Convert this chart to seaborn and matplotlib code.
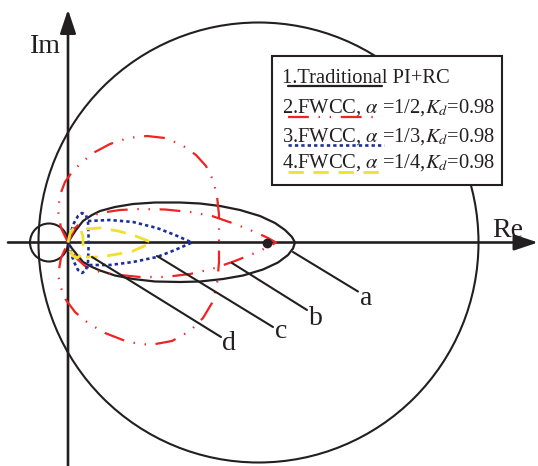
import matplotlib
matplotlib.use("Agg")
import matplotlib.pyplot as plt
from matplotlib.patches import Circle, Rectangle
import pandas as pd
import seaborn as sns

# ---------------------------------------------------------------- data
# Reference circles: unit-stability circle and the small circle left of the origin
circle_re = [1.905, -0.19]
circle_im = [0.0, 0.0]
circle_r = [2.20, 0.19]

# Curve 1: traditional PI+RC (closed teardrop from the origin)
trad_re = [0.00, 0.04, 0.08, 0.15, 0.24, 0.32, 0.47, 0.65, 0.87, 1.12, 1.32, 1.52, 1.72,
           1.92, 2.07, 2.17, 2.24, 2.27,
           2.25, 2.20, 2.10, 1.95, 1.75, 1.55, 1.32, 1.12, 0.87, 0.65, 0.47, 0.32, 0.24,
           0.15, 0.08, 0.04, 0.00]
trad_im = [0.000, 0.065, 0.125, 0.215, 0.275, 0.315, 0.355, 0.385, 0.400, 0.400, 0.390,
           0.365, 0.325, 0.265, 0.195, 0.125, 0.055, 0.000,
           -0.060, -0.125, -0.200, -0.270, -0.330, -0.365, -0.390, -0.395, -0.390, -0.365,
           -0.330, -0.280, -0.245, -0.195, -0.110, -0.060, 0.000]

# Curve 2: FWCC, alpha = 1/2 (outer lobe and inner lobe)
fw2_outer_re = [0.00, -0.07, -0.10, -0.08, -0.03, 0.04, 0.14, 0.27, 0.42, 0.60, 0.79, 0.97,
                1.14, 1.28, 1.38, 1.45, 1.49, 1.51, 1.51, 1.51, 1.49, 1.44, 1.35, 1.22,
                1.04, 0.82, 0.60, 0.37, 0.20, 0.07, -0.02, -0.07, -0.10, -0.07, 0.00]
fw2_outer_im = [0.000, 0.145, 0.325, 0.475, 0.605, 0.705, 0.805, 0.905, 0.985, 1.045,
                1.065, 1.045, 0.975, 0.875, 0.765, 0.625, 0.465, 0.275, 0.000, -0.195,
                -0.425, -0.605, -0.755, -0.885, -0.985, -1.025, -0.995, -0.905, -0.805,
                -0.695, -0.575, -0.455, -0.325, -0.155, 0.000]
fw2_inner_re = [0.00, 0.07, 0.17, 0.32, 0.52, 0.72, 0.97, 1.22, 1.44, 1.67, 1.87, 2.00,
                2.08, 2.00, 1.87, 1.67, 1.44, 1.22, 0.97, 0.72, 0.52, 0.32, 0.17, 0.07, 0.00]
fw2_inner_im = [0.000, 0.145, 0.235, 0.295, 0.325, 0.335, 0.330, 0.305, 0.265, 0.185,
                0.105, 0.045, 0.000, -0.045, -0.105, -0.185, -0.265, -0.315, -0.345,
                -0.345, -0.325, -0.295, -0.235, -0.145, 0.000]

# Curve 3: FWCC, alpha = 1/3
fw3_loop_re = [0.00, 0.03, 0.06, 0.10, 0.14, 0.18, 0.20, 0.205, 0.205, 0.20, 0.18, 0.14,
               0.10, 0.06, 0.03, 0.00]
fw3_loop_im = [0.000, 0.105, 0.195, 0.265, 0.295, 0.275, 0.205, 0.075, -0.075, -0.195,
               -0.275, -0.305, -0.275, -0.195, -0.105, 0.000]
fw3_drop_re = [0.20, 0.42, 0.65, 0.89, 1.07, 1.24, 1.07, 0.89, 0.65, 0.42, 0.20]
fw3_drop_im = [0.215, 0.225, 0.205, 0.145, 0.075, 0.000, -0.075, -0.145, -0.195, -0.225,
               -0.225]

# Curve 4: FWCC, alpha = 1/4
fw4_loop_re = [0.00, 0.02, 0.05, 0.09, 0.13, 0.15, 0.15, 0.13, 0.09, 0.05, 0.02, 0.00]
fw4_loop_im = [0.000, 0.085, 0.135, 0.155, 0.125, 0.055, -0.055, -0.125, -0.155, -0.135,
               -0.085, 0.000]
fw4_drop_re = [0.18, 0.32, 0.50, 0.65, 0.84, 0.65, 0.50, 0.32, 0.18]
fw4_drop_im = [0.135, 0.145, 0.115, 0.075, 0.000, -0.085, -0.115, -0.145, -0.145]

# Marked point on the real axis
dot_re, dot_im = 1.99, 0.0

# Leader lines and their letters
leader_names = ["a", "b", "c", "d"]
leader_start_re = [2.25, 1.64, 0.89, 0.24]
leader_start_im = [-0.095, -0.205, -0.135, -0.145]
leader_end_re = [2.90, 2.39, 2.05, 1.53]
leader_end_im = [-0.490, -0.675, -0.845, -0.945]
leader_text_re = [2.98, 2.48, 2.13, 1.61]
leader_text_im = [-0.625, -0.825, -0.955, -1.075]

legend_labels = [
    "1.Traditional PI+RC",
    "2.FWCC, $\\alpha$ =1/2,$K_d$=0.98",
    "3.FWCC, $\\alpha$ =1/3,$K_d$=0.98",
    "4.FWCC, $\\alpha$ =1/4,$K_d$=0.98",
]

# ---------------------------------------------------------------- style
sns.set_theme(style="white")
plt.rcParams["font.family"] = ["Liberation Serif", "DejaVu Serif"]
plt.rcParams["mathtext.fontset"] = "stix"
plt.rcParams["lines.scale_dashes"] = False

BLACK = "#231f20"
RED = "#f02222"
BLUE = "#1c2f99"
YELLOW = "#f0e030"

STY_TRAD = dict(color=BLACK, lw=1.6, linestyle="-")
STY_FW2 = dict(color=RED, lw=1.6, linestyle=(0, (15, 7, 1, 7, 1, 7)))
STY_FW3 = dict(color=BLUE, lw=1.9, linestyle=(0, (2.4, 2.2)))
STY_FW4 = dict(color=YELLOW, lw=2.0, linestyle=(0, (11, 7)))

fig = plt.figure(figsize=(5.38, 4.66), dpi=100)
ax = fig.add_axes([0, 0, 1, 1])
ax.set_xlim(-0.68, 4.70)
ax.set_ylim(-2.235, 2.425)
ax.set_axis_off()


def curve(re, im, style, z=3):
    df = pd.DataFrame({"Re": re, "Im": im})
    sns.lineplot(data=df, x="Re", y="Im", sort=False, estimator=None, ax=ax,
                 zorder=z, **style)


# circles
for cx, cy, r in zip(circle_re, circle_im, circle_r):
    ax.add_patch(Circle((cx, cy), r, fill=False, ec=BLACK, lw=1.5, zorder=1))

# axes with arrowheads
arrow = dict(arrowstyle="-|>,head_length=0.72,head_width=0.24", mutation_scale=20,
             color=BLACK, lw=1.9, shrinkA=0, shrinkB=0)
ax.annotate("", xy=(4.70, 0.0), xytext=(-0.60, 0.0), arrowprops=arrow, zorder=2)
ax.annotate("", xy=(0.0, 2.33), xytext=(0.0, -2.25), arrowprops=arrow, zorder=2)
ax.text(-0.23, 1.895, "Im", fontsize=20, ha="center", va="baseline", color=BLACK)
ax.text(4.40, 0.055, "Re", fontsize=20, ha="center", va="baseline", color=BLACK)

# curves
curve(trad_re, trad_im, STY_TRAD, 3)
curve(fw2_outer_re, fw2_outer_im, STY_FW2, 4)
curve(fw2_inner_re, fw2_inner_im, STY_FW2, 4)
curve(fw3_loop_re, fw3_loop_im, STY_FW3, 5)
curve(fw3_drop_re, fw3_drop_im, STY_FW3, 5)
curve(fw4_loop_re, fw4_loop_im, STY_FW4, 6)
curve(fw4_drop_re, fw4_drop_im, STY_FW4, 6)
ax.plot([dot_re], [dot_im], "o", color=BLACK, ms=6, zorder=7)

# leader lines with letters
for name, x0, y0, x1, y1, tx, ty in zip(leader_names, leader_start_re, leader_start_im,
                                        leader_end_re, leader_end_im,
                                        leader_text_re, leader_text_im):
    ax.plot([x0, x1], [y0, y1], color=BLACK, lw=1.5, zorder=8)
    ax.text(tx, ty, name, fontsize=20, ha="center", va="baseline", color=BLACK, zorder=9)

# legend box
ax.add_patch(Rectangle((2.04, 0.575), 2.30, 1.29, fc="white", ec=BLACK, lw=1.5, zorder=10))
text_base = [1.595, 1.295, 1.005, 0.745]
sample_y = [1.565, 1.255, 0.975, 0.705]
sample_x = [(2.20, 3.14), (2.20, 3.14), (2.20, 3.16), (2.20, 3.12)]
styles = [STY_TRAD, STY_FW2, STY_FW3, STY_FW4]
for lbl, tb, sy, (sx0, sx1), st in zip(legend_labels, text_base, sample_y, sample_x, styles):
    ax.text(2.14, tb, lbl, fontsize=14.8, ha="left", va="baseline", color=BLACK, zorder=11)
    ax.plot([sx0, sx1], [sy, sy], zorder=11, **st)

fig.savefig("out.png", dpi=100)
